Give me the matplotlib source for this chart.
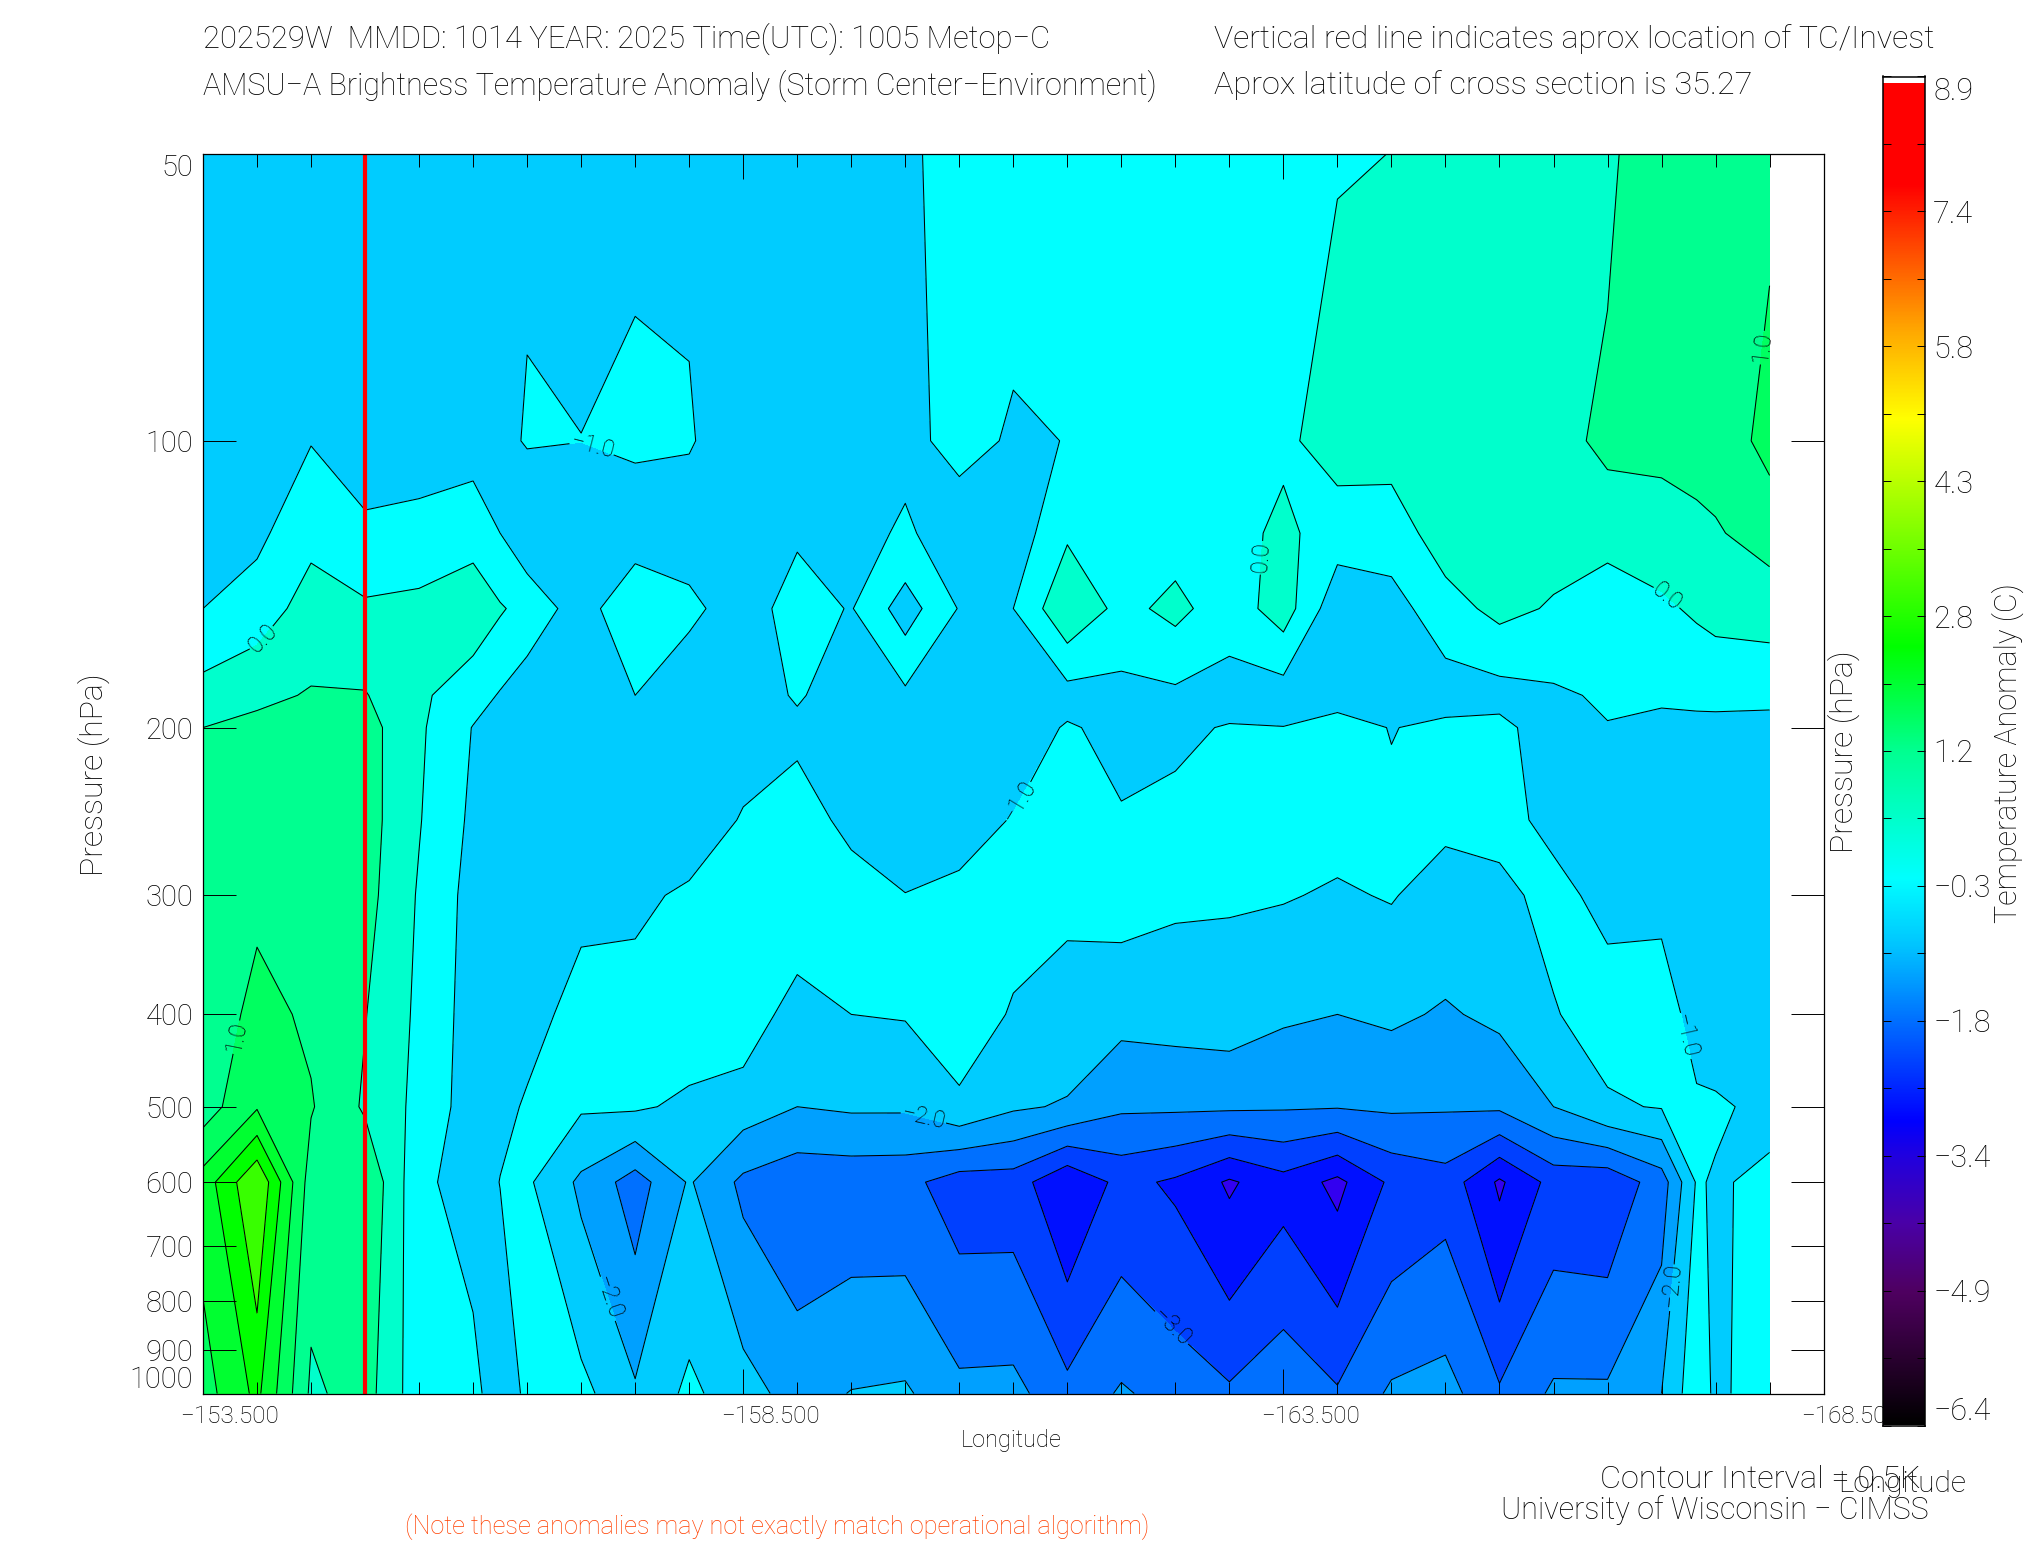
import numpy as np
import matplotlib
matplotlib.use('Agg')
import matplotlib.pyplot as plt
from matplotlib.colors import LinearSegmentedColormap
from matplotlib.ticker import FixedLocator, NullLocator
from matplotlib.transforms import ScaledTranslation

plt.rcParams['font.family'] = ['Roboto', 'DejaVu Sans']
plt.rcParams['font.weight'] = 'light'
plt.rcParams['axes.unicode_minus'] = True
plt.rcParams['contour.negative_linestyle'] = 'solid'

W, H = 2025, 1550

# longitudes, every half degree, with two extra columns for the narrow stripes
lon = [-153.5, -154.0, -154.5, -155.0, -155.5, -156.0, -156.25, -156.5, -157.0, -157.5, -158.0, -158.5,
       -159.0, -159.5, -160.0, -160.5, -161.0, -161.5, -162.0, -162.5, -163.0, -163.5, -164.0, -164.5,
       -165.0, -165.5, -166.0, -166.5, -167.0, -167.325, -167.5, -168.0]
pres = [50, 100, 125, 150, 185, 200, 250, 300, 400, 500, 600, 1000]

t_50 = [-.8, -.8, -.8, -.8, -.8, -.8, -.68, -.55, -.63, -.574, -.556, -.75, -.75, -.75, -.62, -.245, -.30, -.2, -.15, -.1, -.1, -.1, -.03, .003, .1, .15, .2, .39, .9, .93, .92, .91]
t_100 = [-.75, -.85, -.52, -.85, -.8, -.72, -.6, -.47, -.495, -.42, -.47, -.72, -.7, -.7, -.65, -.33, -.56, -.49, -.3, -.25, -.25, -.1, .23, .2, .2, .25, .3, .63, .65, .69, .71, 1.15]
t_125 = [-.62, -.62, -.12, -.37, -.3, -.18, -.5, -.85, -.85, -.78, -.7, -.75, -.56, -.7, -.42, -.8, -.8, -.07, -.15, -.22, -.2, .12, -.27, -.25, .25, .2, .2, .18, .25, .38, .45, .72]
t_150 = [-.5, -.25, .2, .07, .12, .3, .05, -.17, -.75, -.05, -.4, -.72, -.305, -.53, .24, -.53, -.5, .42, -.15, .14, -.28, .25, -.85, -.7, -.2, .14, -.05, -.3, -.08, .07, .15, .2]
t_185 = [.2, .38, .54, .53, .09, -.28, -.54, -.8, -.85, -.5, -.8, -.75, -.45, -.75, -.6, -.75, -.75, -.7, -.65, -.6, -.7, -.75, -.72, -.75, -.75, -.7, -.58, -.43, -.45, -.38, -.35, -.34]
t_200 = [.5, .64, .66, .7, .08, -.52, -.73, -.95, -.9, -.68, -.95, -.72, -.6, -.8, -.9, -.8, -.8, -.45, -.64, -.58, -.47, -.49, -.3, -.52, -.38, -.35, -.8, -.52, -.58, -.63, -.65, -.7]
t_250 = [.58, .75, .75, .72, .03, -.6, -.72, -.85, -.85, -.75, -.8, -.46, -.3, -.62, -.75, -.72, -.47, -.4, -.46, -.4, -.3, -.3, -.35, -.4, -.4, -.38, -.6, -.75, -.75, -.78, -.8, -.75]
t_300 = [.62, .9, .82, .68, -.05, -.68, -.69, -.7, -.58, -.6, -.42, -.3, -.12, -.3, -.49, -.38, -.3, -.42, -.3, -.42, -.45, -.47, -.55, -.47, -.7, -.6, -.38, -.62, -.6, -.73, -.8, -.75]
t_400 = [.65, 1.15, .92, .52, -.1, -.72, -.67, -.62, -.38, -.3, -.2, -.2, -.72, -.5, -.47, -.2, -.55, -.65, -.85, -.8, -.75, -.93, -1.0, -.92, -1.05, -.9, -.53, -.3, -.3, -.66, -.85, -.7]
t_500 = [.75, 1.45, 1.04, .43, -.14, -.75, -.6, -.46, -.44, -.43, -.6, -.75, -1.0, -.93, -.93, -.6, -.93, -1.05, -1.42, -1.42, -1.42, -1.45, -1.47, -1.42, -1.45, -1.42, -1.0, -.56, -.47, -.44, -.42, -.64]
t_600 = [1.71, 2.98, .75, .95, -.37, -.75, -.49, -.42, -1.1, -1.73, -.95, -1.61, -1.85, -1.83, -1.85, -2.25, -2.25, -2.95, -2.35, -2.58, -3.07, -2.68, -3.13, -2.4, -2.2, -3.08, -2.32, -2.37, -1.75, -.45, -.55, -.4]
t_1000 = [1.28, 2.12, .41, .71, -.31, -.3, -.9, -.37, -.35, -.93, -.39, -.79, -1.21, -.98, -.93, -1.37, -1.35, -1.85, -1.44, -1.69, -1.92, -1.62, -1.94, -1.42, -1.3, -1.93, -1.42, -1.42, -1.0, -.15, -.62, -.2]

levels = [-3.5, -3, -2.5, -2, -1.5, -1, -.5, 0, .5, 1, 1.5, 2, 2.5, 3]
band_colors = ['#3300f0', '#0010ff', '#0040ff', '#0070ff', '#00a0ff', '#00ccff', '#00ffff',
               '#00ffcc', '#00ff90', '#00ff60', '#00ff30', '#00ff00', '#38ff00']
plain_levels = [-3.5, -3, -2.5, -1.5, .5, 1.5, 2, 2.5, 3]
# the figure's contour annotations read lower than the level they sit on
level_names = {-2: '\u22123.0', -1: '\u22122.0', -.5: '\u22121.0', 0: '0.0', 1: '1.0'}
label_spots = {-2: [(-162.56, 831)],
               -1: [(-160.17, 512), (-157.24, 793), (-167.04, 769)],
               -.5: [(-157.12, 100), (-161.03, 238), (-167.34, 418)],
               0: [(-154.04, 161), (-163.28, 132.5), (-167.08, 144.6)],
               1: [(-153.76, 421), (-167.85, 79.4)]}
press_ticks = [50, 100, 200, 300, 400, 500, 600, 700, 800, 900, 1000]
lon_major = [-153.5, -158.5, -163.5, -168.5]
lon_labels = ['\u2212153.500', '\u2212158.500', '\u2212163.500', '\u2212168.500']
bar_labels = ['\u22126.4', '\u22124.9', '\u22123.4', '\u22121.8', '\u22120.3', '1.2', '2.8', '4.3', '5.8', '7.4', '8.9']
bar_stops = [(0, '#000000'), (.05, '#2a0030'), (.098, '#4f0060'), (.15, '#4a00a8'), (.2, '#2000e0'), (.225, '#0000ff'),
             (.30, '#0070ff'), (.355, '#00c4ff'), (.405, '#00ffff'), (.5, '#00ff90'), (.577, '#00ff00'),
             (.746, '#ffff00'), (.81, '#ffaa00'), (.92, '#ff0000'), (.9955, '#ff0000'), (.9956, '#ffffff'), (1, '#ffffff')]

z = np.array([t_50, t_100, t_125, t_150, t_185, t_200, t_250, t_300, t_400, t_500, t_600, t_1000])

fig = plt.figure(figsize=(W / 100, H / 100), dpi=100)
ax = fig.add_axes([203 / W, 1 - 1393.5 / H, (1823.6 - 203) / W, (1393.5 - 154) / H])

ax.contourf(lon, pres, z, levels=levels, colors=band_colors)
# centre of the diamond near 160W is left in the background colour
ax.contourf(lon[12:17], pres[2:5], z[2:5, 12:17], levels=[0, .5], colors=['#00ccff'])
ax.contour(lon, pres, z, levels=plain_levels, colors='k', linewidths=.75)

ax.set_yscale('log')
ax.set_xlim(-153.5, -168.5)
ax.set_ylim(1000, 50)

for lev, spots in label_spots.items():
    cs = ax.contour(lon, pres, z, levels=[lev], colors='k', linewidths=.75)
    ax.clabel(cs, manual=spots, fmt={lev: level_names[lev]}, fontsize=17, colors='k', inline=True, inline_spacing=1)

ax.axvline(-155.0, color='#ff0000', lw=3)

ax.yaxis.set_major_locator(FixedLocator(press_ticks))
ax.yaxis.set_minor_locator(NullLocator())
ax.set_yticklabels([str(p) for p in press_ticks])
ax.xaxis.set_major_locator(FixedLocator(lon_major))
ax.xaxis.set_minor_locator(FixedLocator(np.arange(-153.5, -168.6, -.5)))
ax.set_xticklabels(lon_labels)
ax.tick_params(axis='x', which='major', direction='in', top=True, bottom=True, length=18, width=.7, pad=8, labelsize=17.5, color='k', labelcolor='k')
ax.tick_params(axis='x', which='minor', direction='in', top=True, bottom=True, length=9, width=.7)
ax.tick_params(axis='y', which='major', direction='in', left=True, right=True, length=23.5, width=.7, pad=7, labelsize=21, labelcolor='k')
for lab in ax.get_xticklabels():
    lab.set_transform(lab.get_transform() + ScaledTranslation(27 / 100, 0, fig.dpi_scale_trans))
ylabs = ax.get_yticklabels()
ylabs[0].set_va('top')
ylabs[-1].set_va('bottom')
for s in ax.spines.values():
    s.set_linewidth(.9)

# colour bar
cax = fig.add_axes([1883 / W, 1 - 1425.5 / H, 42 / W, 1349 / H], zorder=5)
cmap = LinearSegmentedColormap.from_list('idl39', bar_stops, N=1000)
cax.imshow(np.linspace(0, 1, 1000)[:, None], origin='lower', aspect='auto', cmap=cmap, interpolation='nearest', extent=[0, 1, -6.4, 8.9])
cticks = np.linspace(-6.4, 8.9, 21)
cax.set_xticks([])
cax.set_yticks(cticks[::2])
cax.set_yticks(cticks[1::2], minor=True)
cax.set_yticklabels(bar_labels)
cax.tick_params(axis='y', which='both', direction='in', left=True, right=True, length=5.5, width=.7, pad=6, labelleft=False, labelright=True, labelsize=22, labelcolor='k')
clabs = cax.get_yticklabels()
clabs[0].set_va('bottom')
clabs[-1].set_va('top')
for s in cax.spines.values():
    s.set_linewidth(1.1)


def put(x, y, s, **kw):
    kw.setdefault('fontsize', 22.3)
    kw.setdefault('color', 'k')
    kw.setdefault('va', 'center')
    fig.text(x / W, 1 - y / H, s, **kw)


put(203, 39, '202529W  MMDD: 1014 YEAR: 2025 Time(UTC): 1005 Metop\u2212C')
put(203, 85.5, 'AMSU\u2212A Brightness Temperature Anomaly (Storm Center\u2212Environment)', fontsize=22)
put(1214, 39, 'Vertical red line indicates aprox location of TC/Invest', fontsize=23)
put(1214, 85.5, 'Aprox latitude of cross section is 35.27', fontsize=23.4)
put(94, 775, 'Pressure (hPa)', rotation=90, ha='center', fontsize=23)
put(1844, 752, 'Pressure (hPa)', rotation=90, ha='center', fontsize=23)
put(2008, 753, 'Temperature Anomaly (C)', rotation=90, ha='center', fontsize=22)
put(1011, 1441, 'Longitude', ha='center', fontsize=17)
put(1902, 1484, 'Longitude', ha='center', fontsize=21.5)
put(1921, 1479, 'Contour Interval = 0.5K', ha='right', fontsize=23.4)
put(1929, 1510, 'University of Wisconsin \u2212 CIMSS', ha='right', fontsize=22)
put(405, 1527, '(Note these anomalies may not exactly match operational algorithm)', fontsize=18.2, color='#ff4000')

fig.savefig('out.png', dpi=100)
